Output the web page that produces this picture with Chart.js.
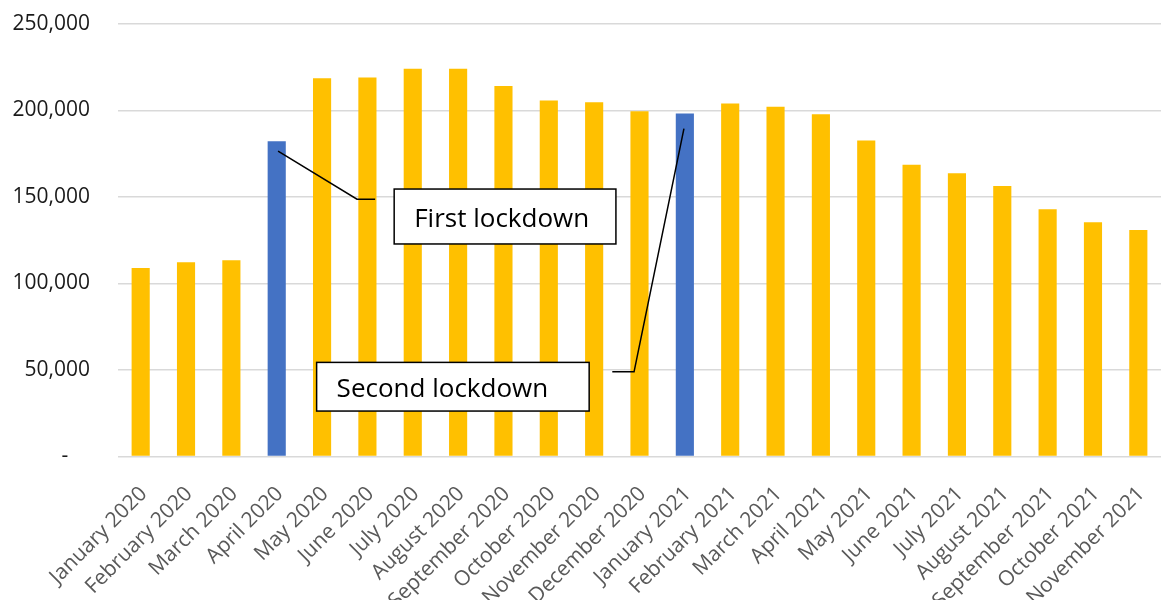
<!DOCTYPE html>
<html lang="en">
<head>
  <meta charset="UTF-8">
  <title>Monthly totals with lockdowns</title>
  <script src="https://cdn.jsdelivr.net/npm/chart.js"></script>
  <style>
    html, body { margin: 0; padding: 0; background: #fff; overflow: hidden; }
    canvas { display: block; }
  </style>
</head>
<body>
  <canvas id="chart" width="1161" height="600"></canvas>

  <script>
    const months = [
      "January 2020", "February 2020", "March 2020", "April 2020", "May 2020", "June 2020",
      "July 2020", "August 2020", "September 2020", "October 2020", "November 2020", "December 2020",
      "January 2021", "February 2021", "March 2021", "April 2021", "May 2021", "June 2021",
      "July 2021", "August 2021", "September 2021", "October 2021", "November 2021"
    ];
    const totals = [
      109000, 112300, 113400, 182200, 218700, 219100,
      224100, 224100, 214100, 205800, 204700, 199500,
      198300, 204100, 202200, 197900, 182700, 168700,
      163700, 156400, 142900, 135400, 130900
    ];
    const lockdownMonths = ["April 2020", "January 2021"];
    const yTicks = [0, 50000, 100000, 150000, 200000, 250000];

    const GOLD = "#FFC000";
    const BLUE = "#4472C4";
    const FONT = "'Open Sans', sans-serif";

    // callouts in data space: [category index, value]
    const callouts = [
      {
        text: "First lockdown",
        box: { x0: 5.59, x1: 10.48, top: 154600, bottom: 122850 },
        line: [[3.03, 176500], [4.77, 148700], [5.17, 148700]]
      },
      {
        text: "Second lockdown",
        box: { x0: 3.88, x1: 9.89, top: 54400, bottom: 26270 },
        line: [[10.4, 48960], [10.88, 48960], [11.98, 189500]]
      }
    ];

    const calloutPlugin = {
      id: "callouts",
      afterDatasetsDraw(chart) {
        const { ctx, scales: { x, y } } = chart;
        ctx.save();
        ctx.strokeStyle = "#000";
        ctx.lineWidth = 1.5;
        callouts.forEach(c => {
          ctx.beginPath();
          c.line.forEach((p, i) => {
            const px = x.getPixelForValue(p[0]);
            const py = y.getPixelForValue(p[1]);
            if (i === 0) ctx.moveTo(px, py); else ctx.lineTo(px, py);
          });
          ctx.stroke();

          const left = x.getPixelForValue(c.box.x0);
          const right = x.getPixelForValue(c.box.x1);
          const top = y.getPixelForValue(c.box.top);
          const bottom = y.getPixelForValue(c.box.bottom);
          ctx.fillStyle = "#fff";
          ctx.fillRect(left, top, right - left, bottom - top);
          ctx.strokeRect(left, top, right - left, bottom - top);

          ctx.fillStyle = "#000";
          ctx.font = "26px " + FONT;
          ctx.textAlign = "left";
          ctx.textBaseline = "alphabetic";
          ctx.fillText(c.text, left + 20, (top + bottom) / 2 + 10);
        });
        ctx.restore();
      }
    };

    new Chart(document.getElementById("chart"), {
      type: "bar",
      data: {
        labels: months,
        datasets: [{
          data: totals,
          backgroundColor: months.map(m => lockdownMonths.includes(m) ? BLUE : GOLD),
          borderWidth: 0,
          barPercentage: 0.4,
          categoryPercentage: 1.0
        }]
      },
      options: {
        responsive: false,
        animation: false,
        layout: { padding: { top: 24, right: -12, left: 0, bottom: 0 } },
        plugins: {
          legend: { display: false },
          tooltip: { enabled: false }
        },
        scales: {
          x: {
            grid: { display: false },
            border: { display: false },
            ticks: {
              color: "#595959",
              font: { family: FONT, size: 21 },
              minRotation: 45,
              maxRotation: 45,
              autoSkip: false,
              padding: 17,
              labelOffset: 3
            },
            afterFit: s => { s.height = 143.5; s.paddingLeft = 0; s.paddingRight = 0; }
          },
          y: {
            min: 0,
            max: 250000,
            afterBuildTicks: s => { s.ticks = yTicks.map(v => ({ value: v })); },
            grid: { color: "#d9d9d9", lineWidth: 1.5, drawTicks: false },
            border: { display: false },
            ticks: {
              color: "#1a1a1a",
              font: { family: FONT, size: 21 },
              padding: 28,
              callback: v => v === 0 ? "-    " : v.toLocaleString("en-US")
            },
            afterFit: s => { s.width = 118; s.paddingTop = 0; s.paddingBottom = 0; }
          }
        }
      },
      plugins: [calloutPlugin]
    });
  </script>
</body>
</html>
